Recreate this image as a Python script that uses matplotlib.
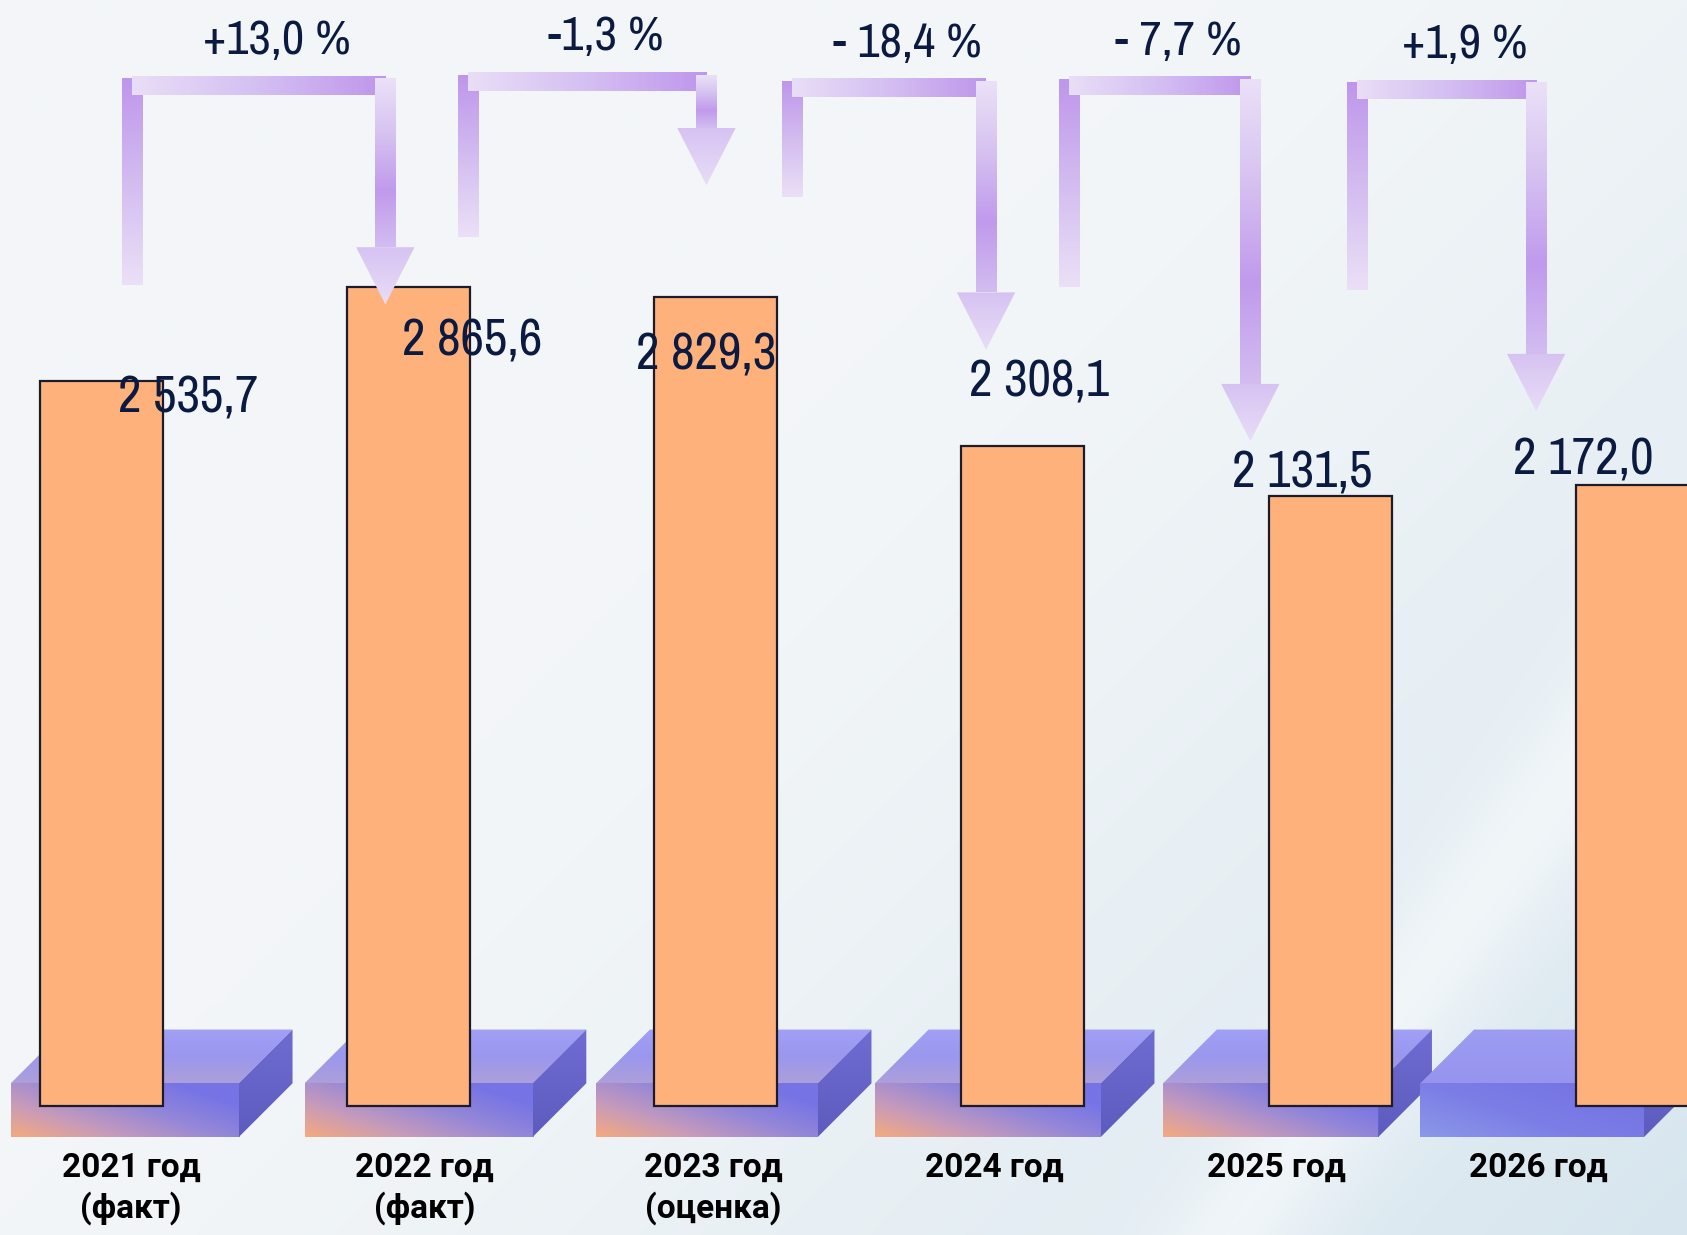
import matplotlib.pyplot as plt
import numpy as np
from matplotlib import font_manager
from matplotlib.colors import LinearSegmentedColormap, to_rgb
from matplotlib.patches import Polygon

# ---- data ----
years = ["2021 год\n(факт)", "2022 год\n(факт)", "2023 год\n(оценка)",
         "2024 год", "2025 год", "2026 год"]
values = [2535.7, 2865.6, 2829.3, 2308.1, 2131.5, 2172.0]
value_labels = ["2 535,7", "2 865,6", "2 829,3", "2 308,1", "2 131,5", "2 172,0"]
changes = ["+13,0 %", "-1,3 %", "- 18,4 %", "- 7,7 %", "+1,9 %"]

# label offsets from bar top (points)
label_dx = [63, 46, -7, 12, -20, -39]
label_dy = [-12, -39, -42, 46, 17, 18]

# arrows between neighbouring bars (decoration)
arrow_left_dx = [0.10, 0.194, 0.25, 0.149, 0.086]
arrow_right_dx = [-0.075, -0.03, -0.12, -0.26, -0.33]
arrow_top = [3592, 3604, 3582, 3589, 3578]
arrow_tail = [2871, 3040, 3179, 2863, 2852]
arrow_tip = [2803, 3220, 2645, 2325, 2430]

# pedestals (decoration)
pedestal_left = [-0.294, 0.662, 1.611, 2.518, 3.456, 4.293]
pedestal_width = [0.742, 0.742, 0.721, 0.735, 0.70, 0.728]
pedestal_warm = [True, True, True, True, True, False]

XLIM = (-0.329, 5.161)
YLIM = (-451.5, 3867.6)
NAVY = "#0a1a40"

# pick a narrow face for the numbers if one is installed, else Roboto
names = sorted({f.name for f in font_manager.fontManager.ttflist})
narrow = [n for n in names if "Narrow" in n or "Condensed" in n]
if narrow:
    NUM_FONT = [narrow[0], "Roboto", "DejaVu Sans"]
    VAL_FS, PCT_FS = 37, 35
else:
    NUM_FONT = ["Roboto", "DejaVu Sans"]
    VAL_FS, PCT_FS = 31, 30
YEAR_FONT = ["Roboto", "DejaVu Sans"]
YEAR_FS = 24

fig = plt.figure(figsize=(16.87, 12.35), dpi=100)
ax = fig.add_axes([0, 0, 1, 1])
ax.set_axis_off()


def cmap_of(colors):
    return LinearSegmentedColormap.from_list("g", colors)


def grad(ax, extent, colors, direction="v", clip=None, zorder=2):
    g = np.linspace(0, 1, 256)
    arr = g[np.newaxis, :] if direction == "h" else g[:, np.newaxis]
    im = ax.imshow(arr, cmap=cmap_of(colors), extent=extent, origin="upper",
                   aspect="auto", interpolation="bicubic", zorder=zorder)
    if clip is not None:
        poly = Polygon(clip, closed=True, facecolor="none", edgecolor="none")
        ax.add_patch(poly)
        im.set_clip_path(poly)
    return im


# ---- background ----
ny, nx = 200, 280
yy, xx = np.mgrid[0:1:ny * 1j, 0:1:nx * 1j]  # yy: 0 top, 1 bottom
base = np.array(to_rgb("#f3f6f8"))
blue = np.array(to_rgb("#cadeea"))
t = np.clip((xx * 0.75 + yy * 0.55) - 0.55, 0, 1) ** 1.3
bg = base[None, None, :] * (1 - t[..., None]) + blue[None, None, :] * t[..., None]
band = np.exp(-((xx + yy * 0.55 - 1.28) / 0.05) ** 2) * 0.5
bg = bg + (1 - bg) * band[..., None]
ax.imshow(bg, extent=(XLIM[0], XLIM[1], YLIM[0], YLIM[1]), origin="upper",
          aspect="auto", interpolation="bicubic", zorder=0)

# ---- pedestals ----
depth_x, depth_y = 0.175, 188
front_top, front_bot = 79, -109
warm_cmap = cmap_of(["#f5aa7e", "#c59abb", "#9487d8", "#7674e6"])
cool_cmap = cmap_of(["#8b98e8", "#7c7ee6", "#7674e4"])
for left, w, warm in zip(pedestal_left, pedestal_width, pedestal_warm):
    u, v = np.meshgrid(np.linspace(0, 1, 120), np.linspace(1, 0, 60))
    tt = np.clip(0.7 * u + 0.5 * v, 0, 1)
    img = (warm_cmap if warm else cool_cmap)(tt)
    ax.imshow(img, extent=(left, left + w, front_bot, front_top), origin="upper",
              aspect="auto", interpolation="bicubic", zorder=3)
    top_poly = [(left, front_top), (left + w, front_top),
                (left + w + depth_x, front_top + depth_y), (left + depth_x, front_top + depth_y)]
    top_cols = ["#a1a0f6", "#9a97ee", "#ad9fda"] if warm else ["#9d9cf2", "#9694ee"]
    grad(ax, (left, left + w + depth_x, front_top, front_top + depth_y),
         top_cols, "v", clip=top_poly, zorder=3)
    side_poly = [(left + w, front_top), (left + w + depth_x, front_top + depth_y),
                 (left + w + depth_x, front_bot + depth_y), (left + w, front_bot)]
    grad(ax, (left + w, left + w + depth_x, front_bot, front_top + depth_y),
         ["#706dd2", "#5e5bbf"], "v", clip=side_poly, zorder=3)

# ---- bars ----
x = np.arange(len(values))
ax.bar(x, values, width=0.40, color="#ffb17b", edgecolor="#1b1b2b",
       linewidth=1.6, zorder=5)

for i, (v, lab) in enumerate(zip(values, value_labels)):
    ax.annotate(lab, xy=(x[i], v), xytext=(label_dx[i], label_dy[i]),
                textcoords="offset points", ha="center", va="center",
                fontsize=VAL_FS, fontweight="semibold", color=NAVY,
                family=NUM_FONT, zorder=8)

# ---- x labels ----
for left, w, lab in zip(pedestal_left, pedestal_width, years):
    ax.text(left + w / 2 + 0.02, -160, lab, ha="center", va="top",
            fontsize=YEAR_FS, fontweight="bold", color="black", family=YEAR_FONT,
            linespacing=1.3, zorder=8)

# ---- change arrows ----
vw = 0.066    # vertical stem width
hh = 55       # horizontal bar thickness
head_w = 0.19
head_h = 200
for i, ch in enumerate(changes):
    lx = x[i] + arrow_left_dx[i]
    rx = x[i + 1] + arrow_right_dx[i]
    top = arrow_top[i]
    # left stem
    grad(ax, (lx - vw / 2, lx + vw / 2, arrow_tail[i], top),
         ["#bf96eb", "#d3bcf0", "#ebe0f7"], "v", zorder=6)
    # horizontal
    grad(ax, (lx, rx, top - hh, top + 10),
         ["#e9def7", "#d4bff2", "#bf96eb"], "h", zorder=6)
    # right stem
    head_start = arrow_tip[i] + head_h
    grad(ax, (rx - vw / 2, rx + vw / 2, head_start, top),
         ["#ebe1f7", "#d6c2f1", "#c09aec", "#d2bdf0"], "v", zorder=6)
    # head
    tri = [(rx - head_w / 2, head_start), (rx + head_w / 2, head_start), (rx, arrow_tip[i])]
    grad(ax, (rx - head_w / 2, rx + head_w / 2, arrow_tip[i], head_start),
         ["#d6c2f2", "#e8ddf7"], "v", clip=tri, zorder=6)
    ax.text((lx + rx) / 2 + 0.06, top + 135, ch, ha="center", va="center",
            fontsize=PCT_FS, fontweight="semibold", color=NAVY, family=NUM_FONT, zorder=8)

ax.set_xlim(*XLIM)
ax.set_ylim(*YLIM)
fig.savefig("out.png", dpi=100)
